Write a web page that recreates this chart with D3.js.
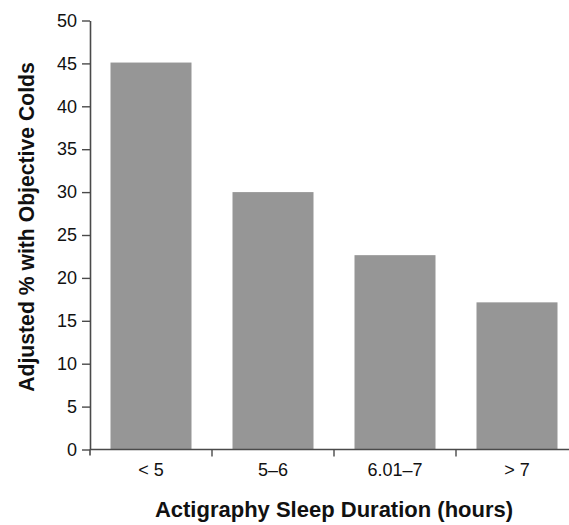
<!DOCTYPE html>
<html>
<head>
<meta charset="utf-8">
<script src="https://cdn.jsdelivr.net/npm/d3@7"></script>
<style>
  body { margin: 0; background: #fff; }
  svg { display: block; }
  text { font-family: "Liberation Sans", Arial, Helvetica, sans-serif; fill: #111; }
</style>
</head>
<body>
<svg id="chart" width="569" height="525"></svg>
<script>
const categories = ["< 5", "5–6", "6.01–7", "> 7"];
const values = [45.1, 30.0, 22.65, 17.15];
const yTicks = [0, 5, 10, 15, 20, 25, 30, 35, 40, 45, 50];
const xTitle = "Actigraphy Sleep Duration (hours)";
const yTitle = "Adjusted % with Objective Colds";

const svg = d3.select("#chart");
const axisColor = "#4a4a4a";

const x = d3.scaleBand().domain(categories).range([90, 578]).paddingInner(0.336).paddingOuter(0.168);
const y = d3.scaleLinear().domain([0, 50]).range([449.5, 20.5]);

// bars
svg.append("g").selectAll("rect")
  .data(categories.map((c, i) => ({ c, v: values[i] })))
  .join("rect")
  .attr("x", d => x(d.c))
  .attr("width", x.bandwidth())
  .attr("y", d => y(d.v))
  .attr("height", d => y(0) - y(d.v))
  .attr("fill", "#969696");

// y axis
const yAxis = svg.append("g").attr("transform", "translate(90,0)")
  .call(d3.axisLeft(y).tickValues(yTicks).tickSize(8).tickPadding(5).tickSizeOuter(0));
yAxis.select(".domain").attr("stroke", axisColor).attr("stroke-width", 1.6);
yAxis.selectAll(".tick line").attr("stroke", axisColor).attr("stroke-width", 1.4);
yAxis.selectAll(".tick text").attr("font-size", 18).attr("fill", "#111")
  .attr("font-family", "'Liberation Sans', Arial, sans-serif");
// extend y axis line slightly below the x axis
svg.append("line").attr("x1", 90).attr("x2", 90).attr("y1", y(0)).attr("y2", y(0) + 6)
  .attr("stroke", axisColor).attr("stroke-width", 1.6);

// x axis
const boundaries = [0, 1, 2, 3, 4].map(i => 90 + i * x.step());
const xAxisG = svg.append("g");
xAxisG.append("line").attr("x1", 90).attr("x2", 578).attr("y1", y(0)).attr("y2", y(0))
  .attr("stroke", axisColor).attr("stroke-width", 1.6);
xAxisG.selectAll("line.tk").data(boundaries.slice(1)).join("line").attr("class", "tk")
  .attr("x1", d => d).attr("x2", d => d).attr("y1", y(0)).attr("y2", y(0) + 7)
  .attr("stroke", axisColor).attr("stroke-width", 1.4);
xAxisG.selectAll("text").data(categories).join("text")
  .attr("x", d => x(d) + x.bandwidth() / 2)
  .attr("y", 475.5)
  .attr("text-anchor", "middle")
  .attr("font-size", 18)
  .text(d => d);

// titles
svg.append("text").attr("x", 334).attr("y", 517).attr("text-anchor", "middle")
  .attr("font-size", 22).attr("font-weight", "bold").text(xTitle);
svg.append("text").attr("transform", "translate(33.5,227) rotate(-90)").attr("text-anchor", "middle")
  .attr("font-size", 21.2).attr("font-weight", "bold").text(yTitle);
</script>
</body>
</html>
